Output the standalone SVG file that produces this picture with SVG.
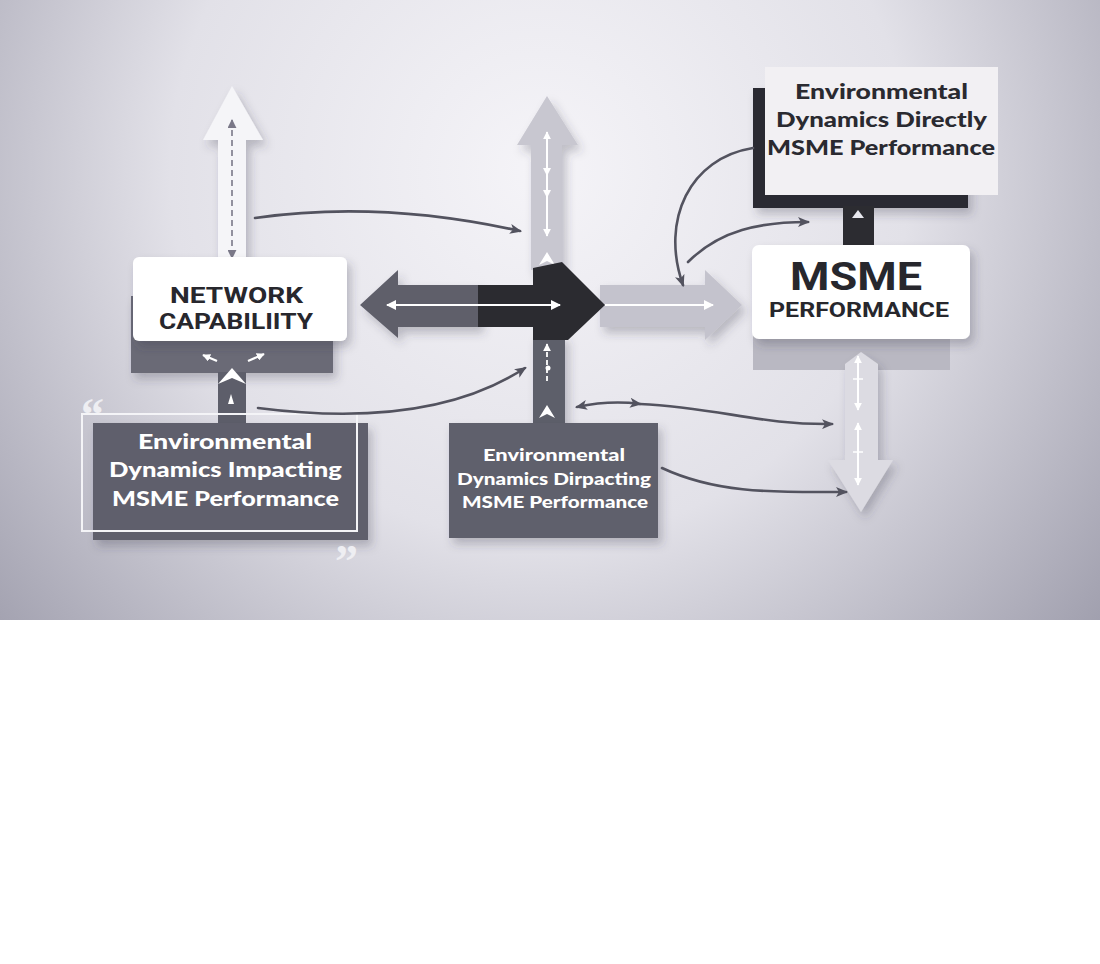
<svg xmlns="http://www.w3.org/2000/svg" width="1100" height="964" viewBox="0 0 1100 964">
<defs>
<radialGradient id="bg" cx="540" cy="170" r="740" gradientUnits="userSpaceOnUse">
<stop offset="0" stop-color="#f5f4f8"/>
<stop offset="0.5" stop-color="#e2e1e8"/>
<stop offset="1" stop-color="#9d9cab"/>
</radialGradient>
<filter id="sh" x="-20%" y="-20%" width="150%" height="160%">
<feDropShadow dx="4" dy="6" stdDeviation="5" flood-color="#3a3a48" flood-opacity="0.28"/>
</filter>
<marker id="ah" viewBox="0 0 12 10" refX="10" refY="5" markerWidth="12" markerHeight="10" markerUnits="userSpaceOnUse" orient="auto-start-reverse">
<path d="M0,0 L12,5 L0,10 L3,5 Z" fill="#53535f"/>
</marker>
<marker id="wh" viewBox="0 0 10 10" refX="9" refY="5" markerWidth="10" markerHeight="10" markerUnits="userSpaceOnUse" orient="auto-start-reverse">
<path d="M0,0 L10,5 L0,10 Z" fill="#ffffff"/>
</marker>
<marker id="whs" viewBox="0 0 10 10" refX="9" refY="5" markerWidth="8" markerHeight="8" markerUnits="userSpaceOnUse" orient="auto-start-reverse">
<path d="M0,0 L10,5 L0,10 Z" fill="#ffffff"/>
</marker>
<marker id="gh" viewBox="0 0 10 10" refX="9" refY="5" markerWidth="9" markerHeight="9" markerUnits="userSpaceOnUse" orient="auto-start-reverse">
<path d="M0,0 L10,5 L0,10 Z" fill="#7a7888"/>
</marker>
</defs>
<style>
.din{font-family:Roboto,"Liberation Sans",sans-serif;font-weight:700;fill:#27272d}
.geo{font-family:Lato,"Open Sans","Liberation Sans",sans-serif;font-weight:900}
.quote{font-family:"Liberation Serif",serif;font-weight:700;fill:#eeeef2}
.conn{fill:none;stroke:#53535f;stroke-width:2.6;stroke-linecap:round}
.wl{fill:none;stroke:#ffffff;stroke-width:2}
</style>
<rect x="0" y="0" width="1100" height="964" fill="#ffffff"/>
<rect x="0" y="0" width="1100" height="620" fill="url(#bg)"/>

<g id="left-up-arrow" filter="url(#sh)">
<polygon points="232,86 263,140 246,140 246,262 218,262 218,140 203,140" fill="#f5f5f8"/>
<line x1="232" y1="120" x2="232" y2="258" stroke="#7a7888" stroke-width="1.6" stroke-dasharray="6 4" marker-start="url(#gh)" marker-end="url(#gh)"/>
</g>

<g id="network-capability">
<rect x="131" y="296" width="202" height="77" fill="#6b6a76" filter="url(#sh)"/>
<rect x="218" y="372" width="28" height="52" fill="#5d5e6a"/>
<polygon points="218,384 232,368 246,384 232,378" fill="#ffffff"/>
<polygon points="228,404 231,394 234,404" fill="#ffffff"/>
<line x1="217" y1="361" x2="203" y2="355" stroke="#fff" stroke-width="2.2" marker-end="url(#whs)"/>
<line x1="248" y1="361" x2="264" y2="354" stroke="#fff" stroke-width="2.2" marker-end="url(#whs)"/>
<rect x="133" y="257" width="214" height="84" rx="6" fill="#ffffff" filter="url(#sh)"/>
<text class="din" x="236.5" y="303" font-size="22.5" text-anchor="middle" textLength="133" lengthAdjust="spacingAndGlyphs">NETWORK</text>
<text class="din" x="236" y="329" font-size="22.5" text-anchor="middle" textLength="154" lengthAdjust="spacingAndGlyphs">CAPABILIITY</text>
</g>

<g id="impacting-box">
<rect x="93" y="423" width="275" height="117" fill="#5e5f6c" filter="url(#sh)"/>
<rect x="82" y="414" width="275" height="117" fill="none" stroke="#f4f4f7" stroke-width="2"/>
<text class="quote" x="81" y="430" font-size="46">“</text>
<text class="quote" x="335" y="577" font-size="46">”</text>
<text class="geo" x="225" y="449" font-size="21" fill="#ffffff" text-anchor="middle" textLength="174" lengthAdjust="spacingAndGlyphs">Environmental</text>
<text class="geo" x="225.5" y="477" font-size="21" fill="#ffffff" text-anchor="middle" textLength="233" lengthAdjust="spacingAndGlyphs">Dynamics Impacting</text>
<text class="geo" x="225.5" y="506" font-size="21" fill="#ffffff" text-anchor="middle" textLength="227" lengthAdjust="spacingAndGlyphs">MSME Performance</text>
</g>

<g id="center-cross">
<g filter="url(#sh)">
<polygon points="547,96 578,145 562,145 562,270 531,270 531,145 517,145" fill="#c8c7d0"/>
<polygon points="360,305 398,270 398,285 480,285 480,327 398,327 398,338" fill="#5f5f6b"/>
<polygon points="600,285 705,285 705,270 742,305 705,340 705,327 600,327" fill="#c4c3cd"/>
<rect x="533" y="335" width="32" height="90" fill="#5d5e6a"/>
</g>
<line x1="547" y1="132" x2="547" y2="236" class="wl" marker-start="url(#whs)" marker-end="url(#whs)"/>
<polygon points="543,168 547,176 551,168" fill="#fff"/>
<polygon points="543,190 547,198 551,190" fill="#fff"/>
<polygon points="539,265 547,252 555,265 547,261" fill="#fff"/>
<rect x="478" y="285" width="58" height="42" fill="#2b2b30"/>
<polygon points="533,268 562,262 605,305 568,340 533,340" fill="#2b2b30"/>
<line x1="387" y1="305" x2="560" y2="305" class="wl" stroke-width="2.4" marker-start="url(#wh)" marker-end="url(#wh)"/>
<line x1="605" y1="305" x2="713" y2="305" class="wl" stroke-width="2.4" marker-end="url(#wh)"/>
<line x1="547" y1="344" x2="547" y2="382" stroke="#fff" stroke-width="1.8" stroke-dasharray="5 3" marker-start="url(#whs)"/>
<circle cx="548" cy="368" r="2.5" fill="#fff"/>
<polygon points="539,418 547,405 555,418 547,414" fill="#fff"/>
</g>

<g id="dirpacting-box">
<rect x="449" y="423" width="209" height="115" fill="#5f606c" filter="url(#sh)"/>
<text class="geo" x="554" y="461" font-size="17" fill="#ffffff" text-anchor="middle" textLength="142" lengthAdjust="spacingAndGlyphs">Environmental</text>
<text class="geo" x="554" y="485" font-size="17" fill="#ffffff" text-anchor="middle" textLength="194" lengthAdjust="spacingAndGlyphs">Dynamics Dirpacting</text>
<text class="geo" x="555" y="508" font-size="17" fill="#ffffff" text-anchor="middle" textLength="186" lengthAdjust="spacingAndGlyphs">MSME Performance</text>
</g>

<g id="directly-box">
<rect x="753" y="88" width="215" height="120" fill="#2a2a30" filter="url(#sh)"/>
<rect x="843" y="206" width="31" height="40" fill="#2c2c31"/>
<polygon points="852,218 858,210 864,218" fill="#e8e8ee"/>
<rect x="765" y="67" width="233" height="128" fill="#f2f0f3"/>
<text class="geo" x="881.5" y="99" font-size="20" fill="#2a2a30" text-anchor="middle" textLength="173" lengthAdjust="spacingAndGlyphs">Environmental</text>
<text class="geo" x="881.5" y="127" font-size="20" fill="#2a2a30" text-anchor="middle" textLength="211" lengthAdjust="spacingAndGlyphs">Dynamics Directly</text>
<text class="geo" x="881" y="155" font-size="20" fill="#2a2a30" text-anchor="middle" textLength="228" lengthAdjust="spacingAndGlyphs">MSME Performance</text>
</g>

<g id="msme-performance">
<rect x="753" y="330" width="197" height="40" fill="#b9b8c2"/>
<rect x="752" y="245" width="218" height="94" rx="7" fill="#ffffff" filter="url(#sh)"/>
<text class="din" x="856" y="290" font-size="38" font-weight="900" text-anchor="middle" textLength="132" lengthAdjust="spacingAndGlyphs">MSME</text>
<text class="din" x="859" y="317" font-size="21" text-anchor="middle" textLength="180" lengthAdjust="spacingAndGlyphs">PERFORMANCE</text>
</g>

<g id="right-down-arrow">
<polygon points="861,352 878,364 878,460 893,460 861,512 828,460 845,460 845,364" fill="#dcdbe2" filter="url(#sh)"/>
<line x1="858" y1="356" x2="858" y2="410" class="wl" marker-start="url(#whs)" marker-end="url(#whs)"/>
<line x1="858" y1="423" x2="858" y2="485" class="wl" marker-start="url(#whs)" marker-end="url(#whs)"/>
<line x1="853" y1="379" x2="863" y2="379" stroke="#fff" stroke-width="1.5"/>
<line x1="853" y1="452" x2="863" y2="452" stroke="#fff" stroke-width="1.5"/>
</g>

<g id="connectors">
<path class="conn" d="M255,218 Q380,200 520,231" marker-end="url(#ah)"/>
<path class="conn" d="M258,408 Q430,430 525,368" marker-end="url(#ah)"/>
<path class="conn" d="M753,148 C690,158 660,220 683,285" marker-end="url(#ah)"/>
<path class="conn" d="M688,262 C720,230 760,222 808,222" marker-end="url(#ah)"/>
<path class="conn" d="M577,407 Q610,400 640,404" marker-start="url(#ah)" marker-end="url(#ah)"/>
<path class="conn" d="M640,404 C720,408 760,425 832,424" marker-end="url(#ah)"/>
<path class="conn" d="M662,468 C720,495 780,492 846,492" marker-end="url(#ah)"/>
</g>
</svg>
